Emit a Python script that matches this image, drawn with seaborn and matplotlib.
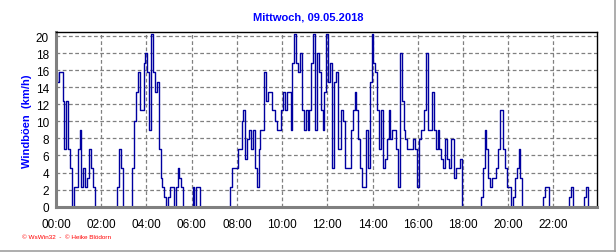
import numpy as np
import pandas as pd
import matplotlib
matplotlib.use("Agg")
import matplotlib.pyplot as plt
import seaborn as sns
from matplotlib.lines import Line2D

# 5-minute gust values (km/h), in 4-hour blocks
gusts_00_04 = [15.8, 14.6, 15.8, 15.8, 12.4, 6.8, 12.4, 6.8, 4.5, 0, 2.3, 2.3,
               6.8, 9.0, 2.3, 4.5, 2.3, 3.4, 6.8, 4.5, 2.3, 0, 0, 0,
               0, 0, 0, 0, 0, 0, 0, 0, 0, 2.3, 6.8, 4.5,
               0, 0, 0, 0, 0, 4.5, 10.1, 13.5, 15.8, 11.3, 11.3, 16.9]
gusts_04_08 = [18.0, 15.8, 9.0, 20.3, 15.8, 13.5, 14.6, 6.8, 3.4, 2.3, 1.1, 0,
               1.1, 2.3, 2.3, 0, 2.3, 4.5, 3.4, 2.3, 0, 0, 0, 0,
               0, 2.3, 0, 2.3, 2.3, 0, 0, 0, 0, 0, 0, 0,
               0, 0, 0, 0, 0, 0, 0, 0, 0, 2.3, 4.5, 4.5]
gusts_08_12 = [4.5, 6.8, 6.8, 10.1, 11.3, 5.6, 7.9, 9.0, 6.8, 9.0, 4.5, 2.3,
               6.8, 9.0, 9.0, 15.8, 12.4, 13.5, 13.5, 11.3, 11.3, 10.1, 9.0, 9.0,
               11.3, 13.5, 11.3, 13.5, 13.5, 9.0, 16.9, 20.3, 16.9, 15.8, 18.0, 11.3,
               9.0, 11.3, 9.0, 11.3, 16.9, 20.3, 9.0, 18.0, 15.8, 11.3, 9.0, 13.5]
gusts_12_16 = [20.3, 14.6, 16.9, 4.5, 14.6, 15.8, 6.8, 6.8, 11.3, 10.1, 4.5, 4.5,
               4.5, 9.0, 11.3, 13.5, 11.3, 7.9, 4.5, 2.3, 2.3, 9.0, 4.5, 14.6,
               20.3, 16.9, 15.8, 11.3, 6.8, 11.3, 4.5, 5.6, 7.9, 11.3, 7.9, 9.0,
               9.0, 6.8, 2.3, 18.0, 12.4, 9.0, 7.9, 6.8, 6.8, 6.8, 7.9, 6.8]
gusts_16_20 = [2.3, 7.9, 9.0, 9.0, 11.3, 18.0, 9.0, 9.0, 13.5, 9.0, 6.8, 9.0,
               6.8, 5.6, 4.5, 7.9, 5.6, 4.5, 7.9, 7.9, 3.4, 4.5, 4.5, 5.6,
               0, 0, 0, 0, 0, 0, 0, 0, 0, 0, 1.1, 4.5,
               9.0, 6.8, 3.4, 2.3, 3.4, 3.4, 4.5, 6.8, 11.3, 11.3, 6.8, 4.5]
gusts_20_24 = [2.3, 2.3, 0, 1.1, 3.4, 4.5, 6.8, 3.4, 0, 0, 0, 0,
               0, 0, 0, 0, 0, 0, 0, 1.1, 2.3, 2.3, 0, 0,
               0, 0, 0, 0, 0, 0, 0, 0, 0, 1.1, 2.3, 0,
               0, 0, 0, 0, 0, 1.1, 2.3, 0, 0, 0, 0, 0]

tick_labels = ["00:00", "02:00", "04:00", "06:00", "08:00", "10:00",
               "12:00", "14:00", "16:00", "18:00", "20:00", "22:00"]
title = "Mittwoch, 09.05.2018"
ylabel = "Windböen  (km/h)"
footer = "© WsWin32  -  © Heike Blödorn"

values = (gusts_00_04 + gusts_04_08 + gusts_08_12 +
          gusts_12_16 + gusts_16_20 + gusts_20_24)
hours = np.arange(len(values)) * 5 / 60.0
df = pd.DataFrame({"hour": hours, "gust": values})

sns.set_style("white")
plt.rcParams["font.family"] = ["Liberation Sans", "DejaVu Sans"]

W, H = 616, 253
fig = plt.figure(figsize=(W / 100, H / 100), dpi=100)
fig.patch.set_facecolor("white")
left, right, top, bottom = 56, 597, 33.3, 207.6
ax = fig.add_axes([left / W, 1 - bottom / H, (right - left) / W, (bottom - top) / H])
ax.set_axisbelow(True)

sns.lineplot(data=df, x="hour", y="gust", ax=ax, color="#0000A0", linewidth=1.0,
             drawstyle="steps-mid")

ax.set_xlim(0, 23.93)
ax.set_ylim(0, 20.45)
ax.set_xticks(np.arange(0, 24, 2))
ax.set_xticklabels(tick_labels)
ax.set_xticks(np.arange(0, 24, 0.5), minor=True)
ax.set_yticks(np.arange(0, 21, 2))
ax.grid(True, which="major", color="#808080", linestyle=(0, (3, 2)), linewidth=0.9)
ax.tick_params(axis="both", which="both", direction="out", length=3,
               color="#606060", width=1, labelsize=8.5, labelcolor="black")
ax.tick_params(axis="x", which="major", pad=5)
ax.tick_params(axis="y", which="major", pad=2)
for s in ["left", "bottom"]:
    ax.spines[s].set_color("#808080")
    ax.spines[s].set_linewidth(2.2)
for s in ["top", "right"]:
    ax.spines[s].set_color("black")
    ax.spines[s].set_linewidth(1.0)
ax.set_xlabel("")
ax.set_ylabel("")

fig.text(308.5 / W, 1 - 18 / H, title, ha="center", va="center",
         color="#0000FF", fontweight="bold", fontsize=8)
fig.text(27 / W, 1 - 121 / H, ylabel, ha="center", va="center", rotation=90,
         color="#0000FF", fontweight="bold", fontsize=8)
fig.text(22 / W, 1 - 238 / H, footer, ha="left", va="center",
         color="#FF0000", fontsize=4.6)

fig.add_artist(Line2D([0, 1], [0.8 / H, 0.8 / H], color="#A0A0A0", linewidth=1.2,
                      transform=fig.transFigure))
fig.add_artist(Line2D([1 - 1.2 / W, 1 - 1.2 / W], [0, 1], color="#A0A0A0", linewidth=1.2,
                      transform=fig.transFigure))

fig.savefig("out.png", dpi=100, facecolor="white")
